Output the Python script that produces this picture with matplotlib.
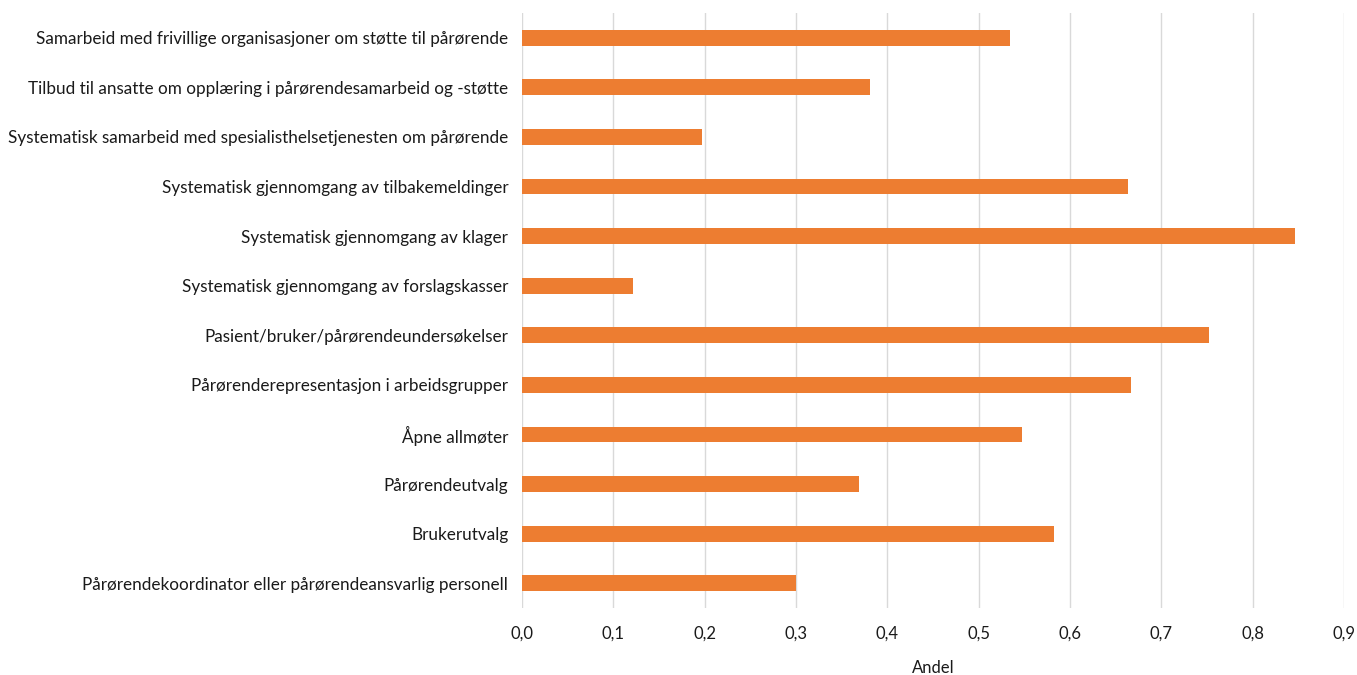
import matplotlib.pyplot as plt
from matplotlib.ticker import FuncFormatter

categories = [
    'Samarbeid med frivillige organisasjoner om støtte til pårørende',
    'Tilbud til ansatte om opplæring i pårørendesamarbeid og -støtte',
    'Systematisk samarbeid med spesialisthelsetjenesten om pårørende',
    'Systematisk gjennomgang av tilbakemeldinger',
    'Systematisk gjennomgang av klager',
    'Systematisk gjennomgang av forslagskasser',
    'Pasient/bruker/pårørendeundersøkelser',
    'Pårørenderepresentasjon i arbeidsgrupper',
    'Åpne allmøter',
    'Pårørendeutvalg',
    'Brukerutvalg',
    'Pårørendekoordinator eller pårørendeansvarlig personell',
]
andel = [0.534, 0.381, 0.197, 0.663, 0.846, 0.121, 0.752, 0.667, 0.547, 0.369, 0.583, 0.300]
x_ticks = [0.0, 0.1, 0.2, 0.3, 0.4, 0.5, 0.6, 0.7, 0.8, 0.9]

plt.rcParams['font.family'] = ['Lato', 'DejaVu Sans']

fig = plt.figure(figsize=(13.57, 6.75), dpi=100)
ax = fig.add_axes([0.3847, 0.0993, 0.6057, 0.8814])

pos = list(range(len(categories)))[::-1]
ax.barh(pos, andel, height=0.32, color='#ED7D31', zorder=3)

ax.set_xlim(0, 0.9)
ax.set_ylim(-0.5, len(categories) - 0.5)
ax.set_yticks(pos)
ax.set_yticklabels(categories, fontsize=12.3, color='#1a1a1a')
ax.set_xticks(x_ticks)
ax.xaxis.set_major_formatter(FuncFormatter(lambda v, p: f'{v:.1f}'.replace('.', ',')))
ax.tick_params(axis='x', labelsize=12, labelcolor='#1a1a1a', length=0, pad=13)
ax.tick_params(axis='y', length=0, pad=10)
ax.grid(axis='x', color='#D9D9D9', linewidth=1, zorder=0)
for s in ax.spines.values():
    s.set_visible(False)
ax.set_xlabel('Andel', fontsize=12, color='#1a1a1a', labelpad=13)

fig.savefig('out.png', dpi=100)
